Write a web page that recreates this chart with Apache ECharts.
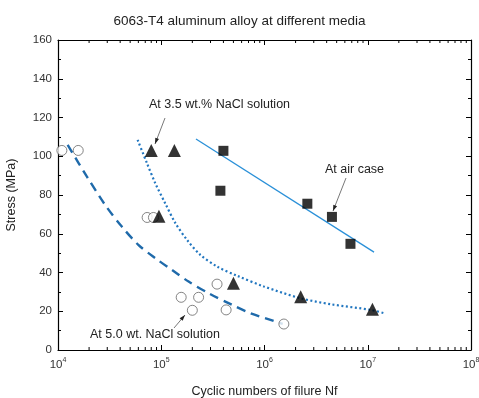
<!DOCTYPE html>
<html>
<head>
<meta charset="utf-8">
<script src="https://cdn.jsdelivr.net/npm/echarts@6/dist/echarts.min.js"></script>
<style>
html,body{margin:0;padding:0;background:#fff;}
#chart{width:479px;height:398px;}
</style>
</head>
<body>
<div id="chart"></div>
<script>
// Fatigue test points: [cycles to failure, stress in MPa]
const airPoints = [[4.0e5, 102.8], [3.74e5, 82.2], [2.6e6, 75.5], [4.5e6, 68.7], [6.8e6, 54.8]];
const nacl35Points = [[8.0e4, 103], [1.34e5, 103], [9.5e4, 69], [5.0e5, 34.5], [2.24e6, 27.5], [1.11e7, 21]];
const nacl50Points = [[1.09e4, 103], [1.57e4, 103], [7.3e4, 68.4], [8.4e4, 68.4], [1.56e5, 27.2],
  [2.3e5, 27.2], [2.0e5, 20.5], [3.47e5, 34], [4.25e5, 20.7], [1.54e6, 13.4]];

// Fitted S-N trend curves
const airFit = [[2.17e5, 108.9], [1.15e7, 50.5]];
const nacl35Fit = [[5.9e4, 108.5], [7.26e4, 96.5], [8.75e4, 86.1], [1.09e5, 75.8], [1.37e5, 65.5],
  [1.78e5, 56.8], [2.39e5, 49.1], [3.47e5, 43.1], [5.43e5, 38.3], [9.84e5, 32.8], [2.24e6, 26.7],
  [4.4e6, 23.6], [1.07e7, 20.7], [1.44e7, 19.0]];
const nacl50Fit = [[1.24e4, 105.9], [1.9e4, 89.6], [2.86e4, 74.9], [4.15e4, 63.7], [6.0e4, 54.3],
  [8.75e4, 47.4], [1.27e5, 41.3], [1.84e5, 35.3], [2.88e5, 29.3], [4.85e5, 23.3], [7.3e5, 19.0],
  [1.5e6, 13.5]];

// Axis tick values
const decadeTicks = [1e4, 1e5, 1e6, 1e7, 1e8];
const minorFactors = [2, 3, 4, 5, 6, 7, 8, 9];
const yTicks = [0, 20, 40, 60, 80, 100, 120, 140, 160];

const minorTickValues = [];
decadeTicks.slice(0, 4).forEach(d => minorFactors.forEach(f => minorTickValues.push([d * f, 0])));

const chart = echarts.init(document.getElementById('chart'), null, {renderer: 'canvas'});
const FONT = 'Liberation Sans, Arial, sans-serif';
const expo = v => Math.round(Math.log10(v));

function minorTickSeries(onTop) {
  return {
    type: 'custom',
    silent: true,
    data: minorTickValues,
    renderItem: function (params, api) {
      const p = api.coord([api.value(0), onTop ? 160 : 0]);
      const dir = onTop ? 1 : -1;
      return {
        type: 'line',
        shape: {x1: p[0], y1: p[1], x2: p[0], y2: p[1] + dir * 3},
        style: {stroke: '#000', lineWidth: 1}
      };
    },
    z: 5
  };
}

function labelledArrow(text, tx, ty, x1, y1, x2, y2) {
  return [
    {
      type: 'text', left: tx, top: ty,
      style: {text: text, font: '12.5px ' + FONT, fill: '#222'}
    },
    {
      type: 'line',
      shape: {x1: x1, y1: y1, x2: x2, y2: y2},
      style: {stroke: '#555', lineWidth: 0.8}
    },
    {
      type: 'polygon',
      shape: {points: arrowHead(x1, y1, x2, y2)},
      style: {fill: '#222'}
    }
  ];
}
function arrowHead(x1, y1, x2, y2) {
  const a = Math.atan2(y2 - y1, x2 - x1), L = 6, W = 2;
  const bx = x2 - L * Math.cos(a), by = y2 - L * Math.sin(a);
  return [[x2, y2], [bx + W * Math.sin(a), by - W * Math.cos(a)], [bx - W * Math.sin(a), by + W * Math.cos(a)]];
}

const xAxisBase = {
  type: 'log', logBase: 10, min: 1e4, max: 1e8,
  axisLine: {show: true, onZero: false, lineStyle: {color: '#000', width: 1.2}},
  axisTick: {show: true, inside: true, length: 5, lineStyle: {color: '#000'}},
  splitLine: {show: false}
};
const yAxisBase = {
  type: 'value', min: 0, max: 160, interval: 20,
  axisLine: {show: true, lineStyle: {color: '#000', width: 1.2}},
  axisTick: {show: true, inside: true, length: 5, lineStyle: {color: '#000'}},
  minorTick: {show: true, splitNumber: 2, length: 3, lineStyle: {color: '#000'}},
  splitLine: {show: false}
};

chart.setOption({
  animation: false,
  backgroundColor: '#fff',
  title: {
    text: '6063-T4 aluminum alloy at different media',
    left: 'center', top: 9,
    textStyle: {fontFamily: FONT, fontSize: 13.5, fontWeight: 'normal', color: '#222'}
  },
  grid: {left: 58, right: 8, top: 40, bottom: 48, containLabel: false, outerBoundsMode: 'none'},
  xAxis: [
    Object.assign({}, xAxisBase, {
      position: 'bottom',
      name: 'Cyclic numbers of filure Nf', nameLocation: 'middle', nameGap: 35,
      nameTextStyle: {fontFamily: FONT, fontSize: 12.5, color: '#222'},
      axisLabel: {
        margin: 7, fontFamily: FONT, fontSize: 11.5, color: '#333',
        formatter: v => '10{sup|' + expo(v) + '}',
        rich: {sup: {fontSize: 7, verticalAlign: 'top', padding: [0, 0, 8, 0], fontFamily: FONT, color: '#333'}}
      }
    }),
    Object.assign({}, xAxisBase, {position: 'top', axisLabel: {show: false}})
  ],
  yAxis: [
    Object.assign({}, yAxisBase, {
      position: 'left',
      name: 'Stress (MPa)', nameLocation: 'middle', nameGap: 40, nameRotate: 90,
      nameTextStyle: {fontFamily: FONT, fontSize: 12.5, color: '#222'},
      axisLabel: {margin: 6, fontFamily: FONT, fontSize: 11.5, color: '#333',
        formatter: v => yTicks.indexOf(v) >= 0 ? String(v) : ''}
    }),
    Object.assign({}, yAxisBase, {position: 'right', axisLabel: {show: false}})
  ],
  series: [
    minorTickSeries(false),
    minorTickSeries(true),
    {
      type: 'line', data: airFit, showSymbol: false, symbol: 'none',
      lineStyle: {color: '#2a90d8', width: 1.3}, z: 2
    },
    {
      type: 'line', data: nacl35Fit, smooth: 0.3, showSymbol: false, symbol: 'none',
      lineStyle: {color: '#2277c0', width: 2.2, type: [2, 2.5]}, z: 2
    },
    {
      type: 'line', data: nacl50Fit, smooth: 0.3, showSymbol: false, symbol: 'none',
      lineStyle: {color: '#1f6aaa', width: 2.4, type: [9, 6]}, z: 2
    },
    {
      type: 'scatter', data: airPoints, symbol: 'rect', symbolSize: 10,
      itemStyle: {color: '#000'}, z: 3
    },
    {
      type: 'scatter', data: nacl35Points, symbol: 'triangle', symbolSize: 13,
      itemStyle: {color: '#000'}, z: 4
    },
    {
      type: 'scatter', data: nacl50Points, symbol: 'circle', symbolSize: 10,
      itemStyle: {color: '#fff', borderColor: '#666', borderWidth: 1}, z: 3
    }
  ],
  graphic: [].concat(
    labelledArrow('At 3.5 wt.% NaCl solution', 149, 98, 165, 118, 155, 144),
    labelledArrow('At air case', 325, 163, 346, 178, 333, 211),
    labelledArrow('At 5.0 wt. NaCl solution', 90, 328, 174, 328, 185, 315)
  )
});
</script>
</body>
</html>
